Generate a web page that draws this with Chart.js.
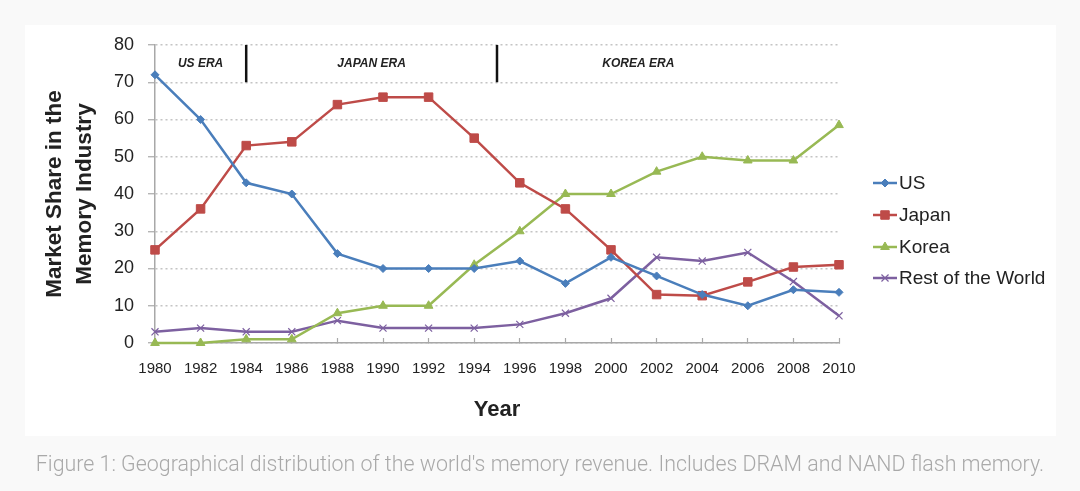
<!DOCTYPE html>
<html>
<head>
<meta charset="utf-8">
<script src="https://cdn.jsdelivr.net/npm/chart.js@4"></script>
<style>
  html, body { margin: 0; padding: 0; background: #f9f9f9; }
  #wrap { position: relative; width: 1080px; height: 491px; overflow: hidden; }
  #panel { position: absolute; left: 25px; top: 25px; width: 1031px; height: 411px; background: #ffffff; }
  #chartBox { position: absolute; left: 0; top: 0; width: 1080px; height: 491px; }
  #caption { position: absolute; left: 0; top: 451px; width: 1080px; text-align: center; white-space: nowrap;
             font-family: Roboto, "Noto Sans", sans-serif; font-weight: 300; font-size: 21.4px; color: #a9a9a9; }
</style>
</head>
<body>
<div id="wrap">
  <div id="panel"></div>
  <div id="chartBox"><canvas id="c"></canvas></div>
  <div id="caption">Figure 1: Geographical distribution of the world's memory revenue. Includes DRAM and NAND flash memory.</div>
</div>
<script>
const years = [1980,1982,1984,1986,1988,1990,1992,1994,1996,1998,2000,2002,2004,2006,2008,2010];
const usShare    = [72,60,43,40,24,20,20,20,22,16,23,18,13,10,14.3,13.6];
const japanShare = [25,36,53,54,64,66,66,55,43,36,25,13,12.7,16.4,20.4,21];
const koreaShare = [0,0,1,1,8,10,10,21,30,40,40,46,50,49,49,58.5];
const restShare  = [3,4,3,3,6,4,4,4,5,8,12,23,22,24.3,16.5,7.3];
const seriesNames = ['US','Japan','Korea','Rest of the World'];
const yTicks = [0,10,20,30,40,50,60,70,80];
const eraLabels = ['US ERA','JAPAN ERA','KOREA ERA'];
const eraCenters = [1982, 1989.5, 2001.2];
const eraBounds = [1984, 1995];
const eraBand = [70, 80];

const SANS = '"Liberation Sans", Arial, sans-serif';

function toPts(vals){ return years.map((y,i)=>({x:y, y:vals[i]})); }

const styles = [
  {color:'#4a7ebb', pointStyle:'rectRot', radius:4},
  {color:'#be4b48', pointStyle:'rect', radius:6},
  {color:'#98b954', pointStyle:'triangle', radius:5},
  {color:'#7d60a0', pointStyle:'crossRot', radius:5}
];
const allVals = [usShare, japanShare, koreaShare, restShare];

const datasets = allVals.map((v,i)=>({
  label: seriesNames[i],
  data: toPts(v),
  borderColor: styles[i].color,
  backgroundColor: styles[i].color,
  pointBackgroundColor: styles[i].color,
  pointBorderColor: styles[i].color,
  pointStyle: styles[i].pointStyle,
  pointRadius: styles[i].radius,
  pointBorderWidth: i===3 ? 1.2 : 1,
  borderWidth: 2.5,
  tension: 0,
  fill: false,
  clip: false
}));

const overlay = {
  id: 'overlay',
  afterDraw(chart){
    const ctx = chart.ctx;
    const xs = chart.scales.x, ys = chart.scales.y;
    ctx.save();
    ctx.strokeStyle = '#111';
    ctx.lineWidth = 2.5;
    eraBounds.forEach(b=>{
      const px = xs.getPixelForValue(b);
      ctx.beginPath();
      ctx.moveTo(px, ys.getPixelForValue(eraBand[1]));
      ctx.lineTo(px, ys.getPixelForValue(eraBand[0]));
      ctx.stroke();
    });
    ctx.fillStyle = '#222';
    ctx.font = 'italic bold 12px ' + SANS;
    ctx.textAlign = 'center';
    ctx.textBaseline = 'middle';
    const ly = ys.getPixelForValue((eraBand[0]+eraBand[1])/2);
    eraLabels.forEach((t,i)=>{
      ctx.fillText(t, xs.getPixelForValue(eraCenters[i]), ly);
    });
    const lx0 = 873, lx1 = 897, rowY = [183, 215, 247, 278];
    chart.data.datasets.forEach((ds,i)=>{
      const y = rowY[i];
      ctx.strokeStyle = ds.borderColor;
      ctx.lineWidth = 2.5;
      ctx.beginPath(); ctx.moveTo(lx0, y); ctx.lineTo(lx1, y); ctx.stroke();
      ctx.fillStyle = ds.borderColor;
      ctx.lineWidth = ds.pointBorderWidth;
      Chart.helpers.drawPoint(ctx, {pointStyle: ds.pointStyle, radius: ds.pointRadius, rotation: 0, borderWidth: ds.pointBorderWidth}, (lx0+lx1)/2, y);
      ctx.fillStyle = '#222';
      ctx.font = '19px ' + SANS;
      ctx.textAlign = 'left';
      ctx.textBaseline = 'middle';
      ctx.fillText(ds.label, 899, y+1);
    });
    ctx.restore();
  }
};

new Chart(document.getElementById('c'), {
  type: 'line',
  data: { datasets },
  options: {
    responsive: true,
    maintainAspectRatio: false,
    animation: false,
    layout: { padding: { left: 0, right: 241, top: 45, bottom: 48 } },
    plugins: { legend: { display: false }, tooltip: { enabled: false } },
    scales: {
      x: {
        type: 'linear',
        min: 1980, max: 2010,
        afterFit(s){ s.height = 100; },
        ticks: { stepSize: 2, padding: 22, color: '#222', font: { family: SANS, size: 15 }, callback: v => String(v), maxRotation: 0, autoSkip: false },
        grid: { drawOnChartArea: false, drawTicks: true, tickLength: -5, tickColor: '#a8a8a8', tickWidth: 1.2 },
        border: { color: '#a8a8a8', width: 1.5 },
        title: { display: true, text: 'Year', color: '#222', font: { family: SANS, size: 22, weight: 'bold', lineHeight: 1.2 }, padding: { top: 0, bottom: 20 } }
      },
      y: {
        min: 0, max: 80,
        afterFit(s){ s.width = 155; },
        afterBuildTicks(s){ s.ticks = yTicks.map(v=>({value:v})); },
        ticks: { padding: 14, color: '#222', font: { family: SANS, size: 18 } },
        grid: { color: '#c4c4c4', lineWidth: 1.5, tickLength: 7, tickColor: '#a8a8a8', tickWidth: 1.2, tickBorderDash: [] },
        border: { color: '#a8a8a8', width: 1.5, dash: [2, 3] },
        title: { display: true, text: ['Market Share in the', 'Memory Industry'], color: '#222', font: { family: SANS, size: 22.5, weight: 'bold', lineHeight: 1.33 }, padding: { top: 40, bottom: 0 } }
      }
    }
  },
  plugins: [overlay]
});
</script>
</body>
</html>
